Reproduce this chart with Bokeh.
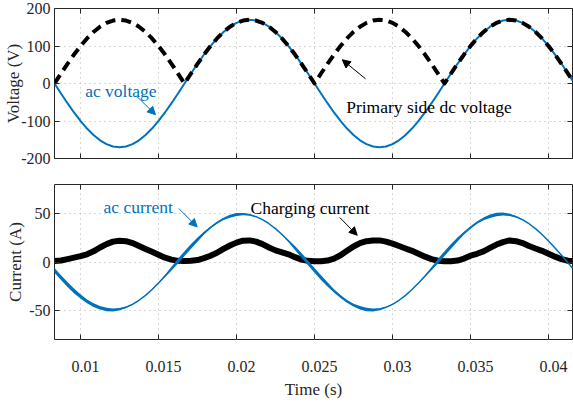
from bokeh.plotting import figure
from bokeh.layouts import column
from bokeh.models import (Range1d, LinearAxis, FixedTicker, Arrow, NormalHead,
                          Label, ColumnDataSource)
from bokeh.embed import file_html
from bokeh.resources import INLINE

# ---------------- data ----------------
# sample instants: one every 1/2400 s from 1/120 s to 5/120 s
time_s = [k / 2400 for k in range(20, 101)]

ac_voltage = [
    0, -26.6, -52.5, -77.2, -99.9, -120.2, -137.5, -151.5, -161.7, -167.9, -170,
    -167.9, -161.7, -151.5, -137.5, -120.2, -99.9, -77.2, -52.5, -26.6, 0,
    26.6, 52.5, 77.2, 99.9, 120.2, 137.5, 151.5, 161.7, 167.9, 170,
    167.9, 161.7, 151.5, 137.5, 120.2, 99.9, 77.2, 52.5, 26.6, 0,
    -26.6, -52.5, -77.2, -99.9, -120.2, -137.5, -151.5, -161.7, -167.9, -170,
    -167.9, -161.7, -151.5, -137.5, -120.2, -99.9, -77.2, -52.5, -26.6, 0,
    26.6, 52.5, 77.2, 99.9, 120.2, 137.5, 151.5, 161.7, 167.9, 170,
    167.9, 161.7, 151.5, 137.5, 120.2, 99.9, 77.2, 52.5, 26.6, 0,
]

dc_voltage = [
    0, 26.6, 52.5, 77.2, 99.9, 120.2, 137.5, 151.5, 161.7, 167.9, 170,
    167.9, 161.7, 151.5, 137.5, 120.2, 99.9, 77.2, 52.5, 26.6, 0,
    26.6, 52.5, 77.2, 99.9, 120.2, 137.5, 151.5, 161.7, 167.9, 170,
    167.9, 161.7, 151.5, 137.5, 120.2, 99.9, 77.2, 52.5, 26.6, 0,
    26.6, 52.5, 77.2, 99.9, 120.2, 137.5, 151.5, 161.7, 167.9, 170,
    167.9, 161.7, 151.5, 137.5, 120.2, 99.9, 77.2, 52.5, 26.6, 0,
    26.6, 52.5, 77.2, 99.9, 120.2, 137.5, 151.5, 161.7, 167.9, 170,
    167.9, 161.7, 151.5, 137.5, 120.2, 99.9, 77.2, 52.5, 26.6, 0,
]

ac_current = [
    -8.6, -16.1, -23.2, -29.8, -35.6, -40.6, -44.5, -47.3, -49.0, -49.5,
    -48.7, -46.8, -43.7, -39.5, -34.4, -28.4, -21.7, -14.5, -6.9, 0.9, 8.6,
    16.1, 23.2, 29.8, 35.6, 40.6, 44.5, 47.3, 49.0, 49.5,
    48.7, 46.8, 43.7, 39.5, 34.4, 28.4, 21.7, 14.5, 6.9, -0.9, -8.6,
    -16.1, -23.2, -29.8, -35.6, -40.6, -44.5, -47.3, -49.0, -49.5,
    -48.7, -46.8, -43.7, -39.5, -34.4, -28.4, -21.7, -14.5, -6.9, 0.9, 8.6,
    16.1, 23.2, 29.8, 35.6, 40.6, 44.5, 47.3, 49.0, 49.5,
    48.7, 46.8, 43.7, 39.5, 34.4, 28.4, 21.7, 14.5, 6.9, -0.9, -8.6,
]

# half-width of the switching ripple band on the ac current (A)
current_ripple = [
    2.5, 2.5, 2.5, 2.5, 2.2, 2.0, 2.0, 1.8, 1.8, 1.5, 1.2,
    0.8, 0.5, 0.3, 0.3, 0.3, 0.5, 1.0, 2.0, 2.5, 2.5,
    2.5, 2.2, 1.5, 1.0, 1.0, 1.2, 1.5, 1.5, 1.2, 0.8,
    0.4, 0.3, 0.3, 0.3, 0.5, 1.0, 2.0, 2.5, 2.5, 2.5,
    2.5, 2.2, 1.8, 1.5, 1.5, 1.5, 1.8, 1.8, 1.5, 1.0,
    0.5, 0.3, 0.3, 0.3, 0.3, 0.3, 0.8, 1.5, 2.5, 2.5,
    2.5, 2.0, 1.5, 1.2, 1.2, 1.5, 1.8, 1.8, 1.5, 1.2,
    0.8, 0.5, 0.3, 0.3, 0.3, 0.3, 0.3, 0.3, 0.3, 0.3,
]

charging_current = [
    1.0, 1.5, 3, 4.5, 6, 8, 11, 15, 18.5, 21, 22,
    21.5, 19.5, 16.5, 13.5, 10.5, 7.5, 4.5, 2.5, 1.2, 1.0,
    1.2, 2, 4, 6.5, 9.5, 13.5, 17, 20, 22, 22.3,
    21, 18.5, 15, 12, 10, 8, 5, 2.5, 1.2, 0.8,
    0.8, 1.5, 3.5, 7, 11.5, 16, 19.5, 21.5, 22.3, 22.3,
    21, 19, 16.5, 14, 11.5, 8.5, 5.5, 3, 1.3, 0.8,
    0.8, 1.5, 3.5, 6.5, 8.5, 11, 14.5, 18, 20.5, 22.3,
    21.5, 19.5, 16.5, 14, 11.5, 8.5, 5.5, 3, 1.3, 1.0,
]

x_ticks = [0.01, 0.015, 0.02, 0.025, 0.03, 0.035, 0.04]
x_tick_labels = ["0.01", "0.015", "0.02", "0.025", "0.03", "0.035", "0.04"]
v_ticks = [-200, -100, 0, 100, 200]
v_tick_labels = ["-200", "-100", "0", "100", "200"]
i_ticks = [-50, 0, 50]
i_tick_labels = ["-50", "0", "50"]

# ---------------- styling ----------------
FONT = "Liberation Serif"
AXC = "#262626"
BLUE = "#0072BD"
GRID = "#b0b0b0"

src = ColumnDataSource(dict(
    t=time_s, v=ac_voltage, vdc=dc_voltage, i=ac_current,
    ilo=[a - r for a, r in zip(ac_current, current_ripple)],
    ihi=[a + r for a, r in zip(ac_current, current_ripple)],
    ic=charging_current,
))

X0, X1 = 1 / 120, 0.041538
xr = Range1d(X0, X1)


def hide_labels(ax):
    ax.major_label_text_font_size = "0px"
    ax.major_label_text_color = None
    ax.major_label_standoff = 0


def style_axis(ax):
    ax.axis_line_color = None
    ax.major_tick_in = 5
    ax.major_tick_out = 0
    ax.major_tick_line_color = AXC
    ax.minor_tick_line_color = None
    ax.major_label_text_font = FONT
    ax.major_label_text_font_size = "16px"
    ax.major_label_text_color = AXC
    ax.axis_label_text_font = FONT
    ax.axis_label_text_font_size = "17px"
    ax.axis_label_text_font_style = "normal"
    ax.axis_label_text_color = AXC


def make_fig(height, yr, top, bottom):
    p = figure(width=573, height=height, x_range=xr, y_range=yr,
               output_backend="svg", toolbar_location=None,
               min_border_left=54, min_border_right=1,
               min_border_top=top, min_border_bottom=bottom,
               background_fill_color="white", border_fill_color="white")
    p.outline_line_color = AXC
    p.outline_line_width = 1
    p.add_layout(LinearAxis(), "above")
    p.add_layout(LinearAxis(), "right")
    for ax in p.axis:
        style_axis(ax)
    for ax in p.above + p.right + p.below:
        hide_labels(ax)
    p.xaxis.ticker = FixedTicker(ticks=x_ticks)
    for g in (p.xgrid, p.ygrid):
        g.grid_line_color = GRID
        g.grid_line_dash = "1 4"
        g.grid_line_width = 1
    p.xgrid.ticker = FixedTicker(ticks=x_ticks)
    p.left[0].major_label_standoff = 4
    return p


# ---------------- top: voltages ----------------
p1 = make_fig(171, Range1d(-200, 200), 8, 13)
p1.yaxis.ticker = FixedTicker(ticks=v_ticks)
p1.ygrid.ticker = FixedTicker(ticks=v_ticks)
p1.left[0].major_label_overrides = dict(zip(v_ticks, v_tick_labels))
p1.left[0].axis_label = "Voltage (V)"
p1.left[0].axis_label_standoff = -5

p1.line("t", "v", source=src, line_color=BLUE, line_width=2)
p1.line("t", "vdc", source=src, line_color="black", line_width=4,
        line_dash="10 6", line_join="round")

p1.add_layout(Label(x=0.01259, y=-20.4, text="ac voltage", text_font=FONT,
                    text_font_size="17.5px", text_color=BLUE,
                    text_align="center", text_baseline="alphabetic"))
p1.add_layout(Arrow(x_start=0.01359, y_start=-33.5, x_end=0.01481, y_end=-83.1,
                    line_color=BLUE, line_width=1,
                    end=NormalHead(size=8, fill_color=BLUE, line_color=BLUE)))
p1.add_layout(Label(x=0.02703, y=-61.4, text="Primary side dc voltage",
                    text_font=FONT, text_font_size="17.5px", text_color="black",
                    text_align="left", text_baseline="alphabetic"))
p1.add_layout(Arrow(x_start=0.02827, y_start=12.5, x_end=0.02678, y_end=63.3,
                    line_color="black", line_width=1,
                    end=NormalHead(size=8, fill_color="black", line_color="black")))

# ---------------- bottom: currents ----------------
p2 = make_fig(234, Range1d(-80, 80), 13, 66)
p2.yaxis.ticker = FixedTicker(ticks=i_ticks)
p2.ygrid.ticker = FixedTicker(ticks=i_ticks)
p2.left[0].major_label_overrides = dict(zip(i_ticks, i_tick_labels))
p2.left[0].axis_label = "Current (A)"
p2.left[0].axis_label_standoff = 1

# the reference draws its time labels about 5 px right of the ticks
shift = 5 / 15600
p2.extra_x_ranges = {"labels": Range1d(X0 - shift, X1 - shift)}
lab_axis = LinearAxis(x_range_name="labels", ticker=FixedTicker(ticks=x_ticks))
style_axis(lab_axis)
lab_axis.major_tick_line_color = None
lab_axis.major_tick_in = 0
lab_axis.major_label_overrides = dict(zip(x_ticks, x_tick_labels))
lab_axis.major_label_standoff = 21
lab_axis.axis_label = "Time (s)"
lab_axis.axis_label_standoff = 5
p2.add_layout(lab_axis, "below")

p2.line("t", "ic", source=src, line_color="black", line_width=6)
p2.varea(x="t", y1="ilo", y2="ihi", source=src, fill_color=BLUE)
p2.line("t", "i", source=src, line_color=BLUE, line_width=1.5)

p2.add_layout(Label(x=0.011474, y=56.9, text="ac current", text_font=FONT,
                    text_font_size="17.5px", text_color=BLUE,
                    text_align="left", text_baseline="alphabetic"))
p2.add_layout(Arrow(x_start=0.0163, y_start=55.2, x_end=0.01748, y_end=36.2,
                    line_color=BLUE, line_width=1,
                    end=NormalHead(size=8, fill_color=BLUE, line_color=BLUE)))
p2.add_layout(Label(x=0.0209, y=55.5, text="Charging current", text_font=FONT,
                    text_font_size="17.5px", text_color="black",
                    text_align="left", text_baseline="alphabetic"))
p2.add_layout(Arrow(x_start=0.02662, y_start=45.9, x_end=0.02774, y_end=27.6,
                    line_color="black", line_width=1,
                    end=NormalHead(size=8, fill_color="black", line_color="black")))

layout = column(p1, p2, spacing=0)
open("out.html", "w").write(file_html(layout, INLINE))
